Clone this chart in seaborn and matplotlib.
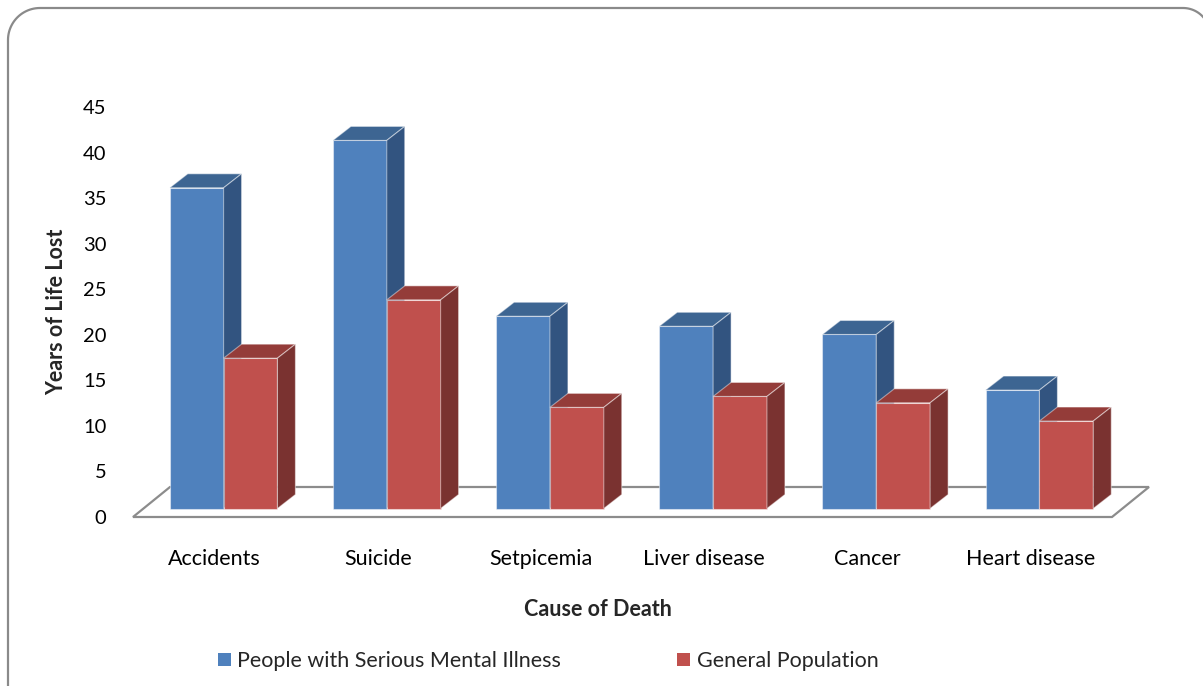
import numpy as np
import matplotlib
matplotlib.use("Agg")
import matplotlib.pyplot as plt
import pandas as pd
import seaborn as sns
from matplotlib.patches import Polygon
from matplotlib.lines import Line2D
from matplotlib.transforms import ScaledTranslation

# Years of life lost by cause of death
causes = ["Accidents", "Suicide", "Setpicemia", "Liver disease", "Cancer", "Heart disease"]
groups = ["People with Serious Mental Illness", "General Population"]
smi_years = [35.2, 40.4, 21.1, 20.0, 19.1, 13.0]
general_years = [16.5, 22.9, 11.1, 12.3, 11.6, 9.6]
y_ticks = [0, 5, 10, 15, 20, 25, 30, 35, 40, 45]

front_colors = ["#4F81BD", "#C0504D"]
top_colors = ["#3D6592", "#943C39"]
side_colors = ["#325480", "#7A3230"]
floor_color = "#8C8C8C"
frame_color = "#8A8A8A"

df = pd.DataFrame({
    "Cause": causes * 2,
    "Group": [groups[0]] * len(causes) + [groups[1]] * len(causes),
    "Years": smi_years + general_years,
})

sns.set_theme(style="white")
plt.rcParams["font.family"] = ["Lato", "DejaVu Sans"]
FS = 15.5
FS_TICK = 14.5

W, H = 1203, 686
fig = plt.figure(figsize=(W / 100, H / 100), dpi=100)
fig.patch.set_facecolor("white")

# plot area: value axis 0..45, six category slots along the floor front edge
ax = fig.add_axes([133 / W, 1 - 517 / H, 979 / W, 410 / H])
sns.barplot(data=df, x="Cause", y="Years", hue="Group", order=causes,
            hue_order=groups, palette=front_colors, saturation=1,
            width=0.66, dodge=True, ax=ax)
ax.set_xlim(-0.5, len(causes) - 0.5)
ax.set_ylim(0, 45)
for s in ax.spines.values():
    s.set_visible(False)
ax.set_facecolor("none")

px_x = 979 / len(causes)   # pixels per category
px_y = 410 / 45            # pixels per year

# pseudo-3D depth: bars sit a quarter of the way into the floor
bar_shift = ScaledTranslation(9 / 100, 8.5 / 100, fig.dpi_scale_trans)
bar_tr = ax.transData + bar_shift
ddx, ddy = 18 / px_x, 14 / px_y      # bar depth
fdx, fdy = 37 / px_x, 30 / px_y      # floor depth

edge = (1, 1, 1, 0.45)
for h_i, cont in enumerate(ax.containers):
    z = 3 + h_i * 0.2
    for bar in cont:
        x0, w, h = bar.get_x(), bar.get_width(), bar.get_height()
        bar.set_transform(bar_tr)
        bar.set_zorder(z)
        bar.set_edgecolor(edge)
        bar.set_linewidth(0.8)
        bar.set_clip_on(False)
        top = Polygon([(x0, h), (x0 + w, h), (x0 + w + ddx, h + ddy), (x0 + ddx, h + ddy)],
                      closed=True, facecolor=top_colors[h_i], edgecolor=edge, lw=0.8,
                      transform=bar_tr, zorder=z + 0.1, clip_on=False)
        side = Polygon([(x0 + w, 0), (x0 + w + ddx, ddy), (x0 + w + ddx, h + ddy), (x0 + w, h)],
                       closed=True, facecolor=side_colors[h_i], edgecolor=edge, lw=0.8,
                       transform=bar_tr, zorder=z + 0.1, clip_on=False)
        ax.add_patch(top)
        ax.add_patch(side)

# floor
x_lo, x_hi = -0.5, len(causes) - 0.5
floor = Polygon([(x_lo, 0), (x_hi, 0), (x_hi + fdx, fdy), (x_lo + fdx, fdy)],
                closed=True, facecolor="white", edgecolor=floor_color, lw=1.6,
                zorder=1, clip_on=False)
ax.add_patch(floor)

ax.set_xticks(range(len(causes)))
ax.set_xticklabels(causes, fontsize=FS)
ax.set_yticks(y_ticks)
ax.set_yticklabels([str(t) for t in y_ticks], fontsize=FS_TICK)
ax.tick_params(axis="x", length=0, pad=23, colors="black")
ax.tick_params(axis="y", length=0, pad=19, colors="black")
ax.set_xlabel("")
ax.set_ylabel("")

fig.text(57 / W, 1 - 312 / H, "Years of Life Lost", rotation=90, fontsize=FS,
         fontweight="bold", ha="center", va="center")
fig.text(598 / W, 1 - 609 / H, "Cause of Death", fontsize=FS,
         fontweight="bold", ha="center", va="center")

sns.move_legend(ax, "center", bbox_to_anchor=(548 / W, 1 - 661 / H),
                bbox_transform=fig.transFigure, ncol=2, title=None, frameon=False,
                fontsize=FS, handlelength=0.6, handleheight=0.6,
                handletextpad=0.3, columnspacing=5.4)
for hnd in ax.get_legend().legend_handles:
    hnd.set_edgecolor("none")

# rounded outer frame (pixel units, origin top-left), cut by the right and bottom edges
edge_l, edge_t, r_l, r_r, x_r = 8, 8, 32, 27, 1183
t1 = np.linspace(np.pi, 1.5 * np.pi, 25)
t2 = np.linspace(1.5 * np.pi, 2.0 * np.pi, 25)
fx = np.concatenate([[edge_l], edge_l + r_l + r_l * np.cos(t1),
                     x_r + r_r * np.cos(t2)])
fy = np.concatenate([[H + 5], edge_t + r_l + r_l * np.sin(t1),
                     edge_t + r_r + r_r * np.sin(t2)])
frame = Line2D(fx / W, 1 - fy / H, transform=fig.transFigure,
               color=frame_color, lw=1.6, solid_capstyle="butt")
fig.add_artist(frame)

fig.savefig("out.png", dpi=100)
